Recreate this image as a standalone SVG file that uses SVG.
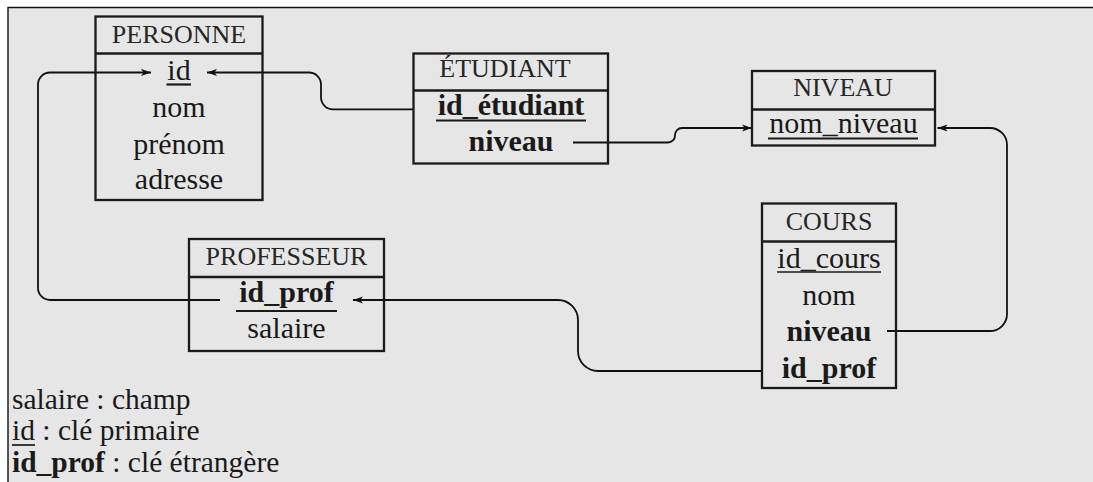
<svg xmlns="http://www.w3.org/2000/svg" width="1093" height="482" viewBox="0 0 1093 482">
<style>
  .frame { fill: #e6e6e6; }
  .frameline { fill: none; stroke: #111; stroke-width: 1.4; }
  .box { fill: none; stroke: #1a1a1a; stroke-width: 2.3; }
  .sep { stroke: #1a1a1a; stroke-width: 2.6; }
  text { font-family: 'Liberation Serif', 'DejaVu Serif', 'Noto Serif', Times, serif; }
  .title { font-size: 26px; fill: #262626; text-anchor: middle; }
  .f { font-size: 30px; fill: #1a1a1a; text-anchor: middle; }
  .b { font-weight: bold; }
  .ul { stroke: #1a1a1a; stroke-width: 2.2; }
  .ulr { stroke: #1a1a1a; stroke-width: 1.7; }
  .leg { font-size: 29.5px; fill: #1a1a1a; }
  .conn { fill: none; stroke: #111; stroke-width: 1.8; marker-end: url(#arr); }
</style>
<defs>
  <marker id="arr" viewBox="0 0 10 8" refX="10" refY="4" markerWidth="10" markerHeight="8" markerUnits="userSpaceOnUse" orient="auto">
    <path d="M0,0.4 L10,4 L0,7.6 L2.6,4 Z" fill="#111"/>
  </marker>
</defs>

<rect class="frame" x="8" y="7" width="1085" height="475"/>
<path class="frameline" d="M8,482 V7.5 H1093"/>

<g id="connectors">
  <path class="conn" d="M413.5,109.3 H333 A12,12 0 0 1 321,97.3 V84.5 A12,12 0 0 0 309,72.5 H207"/>
  <path class="conn" d="M220,300 H50 A12,12 0 0 1 38,288 V84.5 A12,12 0 0 1 50,72.5 H151"/>
  <path class="conn" d="M573,142.5 H668 A7,7 0 0 0 675,135.5 V135 A7,7 0 0 1 682,128 H752"/>
  <path class="conn" d="M887,331 H990 A17,17 0 0 0 1007,314 V145 A17,17 0 0 0 990,128 H937.5"/>
  <path class="conn" d="M763,371 H598 A20,20 0 0 1 578,351 V320 A20,20 0 0 0 558,300 H353"/>
</g>

<g id="personne">
  <rect class="box" x="95.5" y="16.5" width="167" height="183.5"/>
  <line class="sep" x1="95.5" y1="53.5" x2="262.5" y2="53.5"/>
  <text class="title" x="179" y="43">PERSONNE</text>
  <text class="f" x="179" y="80">id</text>
  <line class="ul" x1="166.5" y1="84.5" x2="191" y2="84.5"/>
  <text class="f" x="179" y="117">nom</text>
  <text class="f" x="179" y="154">prénom</text>
  <text class="f" x="179" y="189">adresse</text>
</g>

<g id="etudiant">
  <rect class="box" x="413.5" y="53.5" width="194.5" height="110"/>
  <line class="sep" x1="413.5" y1="90.5" x2="608" y2="90.5"/>
  <text class="title" x="505" y="77">ÉTUDIANT</text>
  <text class="f b" x="511" y="115">id_étudiant</text>
  <line class="ul" x1="436" y1="120.5" x2="586" y2="120.5"/>
  <text class="f b" x="511" y="151">niveau</text>
</g>

<g id="niveau">
  <rect class="box" x="752" y="71" width="183" height="74.5"/>
  <line class="sep" x1="752" y1="109.5" x2="935" y2="109.5"/>
  <text class="title" x="843" y="96">NIVEAU</text>
  <text class="f" x="843.5" y="133">nom_niveau</text>
  <line class="ul" x1="768" y1="138.5" x2="918" y2="138.5"/>
</g>

<g id="cours">
  <rect class="box" x="762" y="203.5" width="134" height="184.5"/>
  <line class="sep" x1="762" y1="241.5" x2="896" y2="241.5"/>
  <text class="title" x="829" y="230">COURS</text>
  <text class="f" x="829" y="268">id_cours</text>
  <line class="ulr" x1="777" y1="272" x2="881" y2="272"/>
  <text class="f" x="829" y="305">nom</text>
  <text class="f b" x="829" y="341">niveau</text>
  <text class="f b" x="829" y="378">id_prof</text>
</g>

<g id="professeur">
  <rect class="box" x="189" y="239" width="195" height="112"/>
  <line class="sep" x1="189" y1="277" x2="384" y2="277"/>
  <text class="title" x="286.5" y="265">PROFESSEUR</text>
  <text class="f b" x="286.5" y="302">id_prof</text>
  <line class="ul" x1="236" y1="311" x2="337" y2="311"/>
  <text class="f" x="286.5" y="338">salaire</text>
</g>

<g id="legend">
  <text class="leg" x="12" y="409">salaire : champ</text>
  <text class="leg" x="12" y="440">id : clé primaire</text>
  <line class="ulr" x1="12" y1="445" x2="35" y2="445"/>
  <text class="leg" x="12" y="472"><tspan font-weight="bold">id_prof</tspan> : clé étrangère</text>
</g>
</svg>
